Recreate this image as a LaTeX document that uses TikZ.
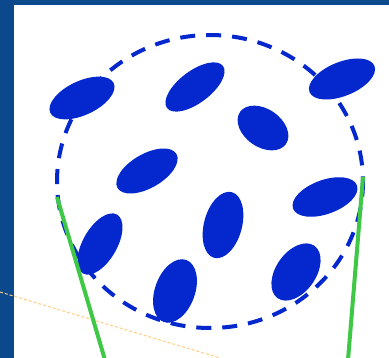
\documentclass[tikz,border=0pt]{standalone}
\definecolor{bgblue}{RGB}{12,72,140}
\definecolor{dotblue}{RGB}{4,40,206}
\definecolor{linegreen}{RGB}{62,200,70}
\definecolor{lightorange}{RGB}{255,205,130}
\tikzset{
  blob/.style={fill=dotblue,draw=none},
  ring/.style={draw=dotblue,line width=4pt,dash pattern=on 15pt off 11pt},
  greenline/.style={draw=linegreen,line width=4pt},
  guide/.style={draw=lightorange,line width=1pt,dash pattern=on 3pt off 2pt}
}
\begin{document}
\begin{tikzpicture}[x=1pt,y=-1pt]
\useasboundingbox (0,0) rectangle (389,358);
\fill[bgblue] (0,0) rectangle (389,358);
\fill[white] (14,5) rectangle (389,358);
% guide line
\draw[guide] (0,292) -- (220,358);
% dashed circle
\draw[ring] (210,181.5) ellipse [x radius=153, y radius=146.5];
% ellipses
\fill[blob] (82,98) ellipse [x radius=35, y radius=17, rotate=25];
\fill[blob] (195,87) ellipse [x radius=35, y radius=16, rotate=37];
\fill[blob] (342,79) ellipse [x radius=35, y radius=17, rotate=22];
\fill[blob] (263,128) ellipse [x radius=28, y radius=19, rotate=-35];
\fill[blob] (147,171) ellipse [x radius=34, y radius=17, rotate=30];
\fill[blob] (325,197) ellipse [x radius=34, y radius=17, rotate=20];
\fill[blob] (100,244) ellipse [x radius=34, y radius=17, rotate=60];
\fill[blob] (223,225) ellipse [x radius=34, y radius=19, rotate=75];
\fill[blob] (296,272) ellipse [x radius=32, y radius=20, rotate=55];
\fill[blob] (175,291) ellipse [x radius=33, y radius=20, rotate=70];
% green lines
\coordinate (gl1) at (57,197);
\coordinate (gl2) at (105,360);
\coordinate (gr1) at (363,177);
\coordinate (gr2) at (348,360);
\draw[greenline] (gl1) -- (gl2);
\draw[greenline] (gr1) -- (gr2);
\end{tikzpicture}
\end{document}
